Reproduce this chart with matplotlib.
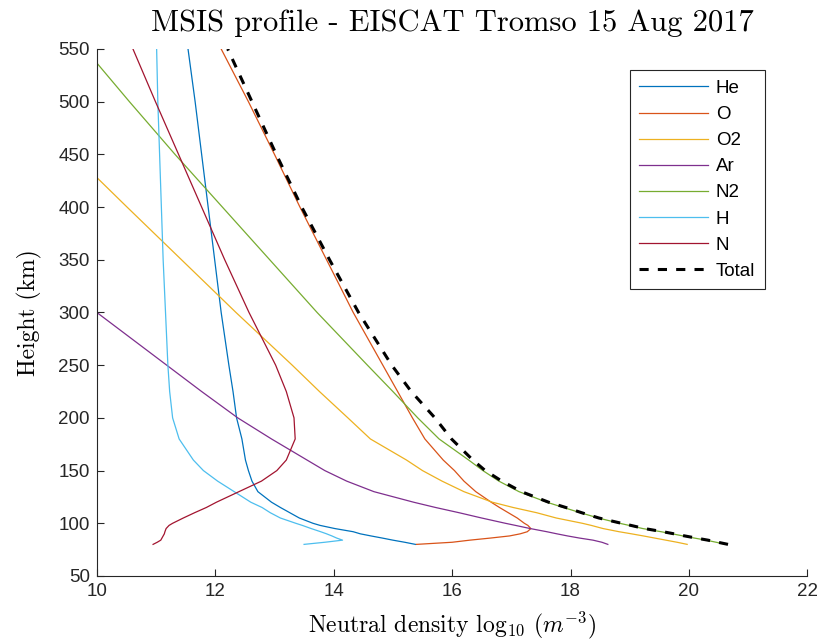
import matplotlib
matplotlib.use("Agg")
import matplotlib.pyplot as plt
import numpy as np

# altitude grid (km)
alt = [80, 82, 84, 86, 88, 90, 92, 95, 98, 100, 105, 110, 115, 120, 130, 140,
       150, 160, 180, 200, 225, 250, 300, 350, 400, 450, 500, 550]

# log10 number densities (m^-3)
he = [15.38, 15.2, 15.0, 14.82, 14.63, 14.45, 14.33, 14.02, 13.77, 13.65, 13.42, 13.26,
      13.1, 12.95, 12.72, 12.62, 12.56, 12.51, 12.45, 12.36, 12.3, 12.23, 12.1, 11.99,
      11.88, 11.77, 11.66, 11.54]
o = [15.4, 16.0, 16.3, 16.65, 16.97, 17.15, 17.27, 17.33, 17.28, 17.22, 17.1, 16.95,
     16.8, 16.66, 16.4, 16.2, 16.04, 15.85, 15.54, 15.33, 15.08, 14.83, 14.33, 13.88,
     13.43, 13.0, 12.56, 12.1]
o2 = [19.97, 19.8, 19.61, 19.42, 19.23, 19.03, 18.82, 18.55, 18.35, 18.2, 17.76, 17.43,
      17.03, 16.68, 16.2, 15.83, 15.5, 15.23, 14.62, 14.24, 13.76, 13.3, 12.35, 11.43,
      10.51, 9.6, 8.68, 7.76]
ar = [18.63, 18.53, 18.38, 18.15, 17.95, 17.77, 17.6, 17.32, 17.07, 16.9, 16.5, 16.12,
      15.72, 15.35, 14.68, 14.22, 13.85, 13.55, 12.95, 12.38, 11.77, 11.18, 10.0, 8.8,
      7.6, 6.4, 5.2, 4.0]
n2 = [20.63, 20.46, 20.29, 20.09, 19.9, 19.72, 19.53, 19.22, 18.99, 18.83, 18.47, 18.17,
      17.88, 17.6, 17.13, 16.79, 16.52, 16.28, 15.78, 15.42, 15.0, 14.57, 13.72, 12.92,
      12.12, 11.32, 10.55, 9.8]
h = [13.5, 13.85, 14.15, 14.05, 13.97, 13.88, 13.78, 13.62, 13.47, 13.36, 13.1, 12.93,
     12.79, 12.6, 12.32, 12.04, 11.8, 11.63, 11.39, 11.28, 11.23, 11.2, 11.16, 11.12,
     11.09, 11.06, 11.03, 11.01]
n = [10.95, 11.02, 11.08, 11.1, 11.12, 11.14, 11.15, 11.17, 11.22, 11.28, 11.46, 11.65,
     11.85, 12.02, 12.4, 12.78, 13.04, 13.2, 13.35, 13.33, 13.2, 13.02, 12.57, 12.16,
     11.77, 11.38, 10.99, 10.61]
total = [20.66, 20.49, 20.32, 20.12, 19.93, 19.75, 19.56, 19.25, 19.02, 18.86, 18.48,
         18.19, 17.92, 17.63, 17.17, 16.84, 16.56, 16.35, 15.99, 15.71, 15.31, 14.98,
         14.42, 13.93, 13.46, 13.03, 12.62, 12.21]

species = ["He", "O", "O2", "Ar", "N2", "H", "N"]
dens = [he, o, o2, ar, n2, h, n]
colors = ["#0072BD", "#D95319", "#EDB120", "#7E2F8E", "#77AC30", "#4DBEEE", "#A2142F"]

plt.rcParams["mathtext.fontset"] = "cm"
plt.rcParams["font.family"] = ["Liberation Sans", "DejaVu Sans"]
serif = "cmr10"

fig = plt.figure(figsize=(8.22, 6.44), dpi=100)
ax = fig.add_axes([0.1178, 0.1056, 0.8644, 0.8184])

for name, d, c in zip(species, dens, colors):
    ax.plot(d, alt, color=c, lw=0.9, label=name)
ax.plot(total, alt, color="black", lw=2.2, linestyle=(0, (3.0, 3.0)), label="Total")

ax.set_xlim(10, 22)
ax.set_ylim(50, 550)
ax.set_xticks(np.arange(10, 23, 2))
ax.set_yticks(np.arange(50, 551, 50))
ax.tick_params(direction="in", length=5, width=0.8, colors="#262626",
               labelsize=13.5, labelcolor="#262626", pad=5)
for side in ["top", "right"]:
    ax.spines[side].set_visible(False)
for side in ["left", "bottom"]:
    ax.spines[side].set_color("#262626")
    ax.spines[side].set_linewidth(0.8)

ax.set_title("MSIS profile - EISCAT Tromso 15 Aug 2017", fontsize=22,
             family=serif, pad=13)
ax.set_xlabel(r"Neutral density log$_{10}$ ($m^{-3}$)", fontsize=17, family=serif,
              labelpad=7)
ax.set_ylabel("Height (km)", fontsize=17, family=serif, labelpad=12)

leg = ax.legend(loc="upper right", bbox_to_anchor=(0.953, 0.977), fontsize=13.5,
                fancybox=False, framealpha=1, edgecolor="#262626",
                handlelength=3.7, handletextpad=0.4, labelspacing=0.48,
                borderpad=0.5)
leg.get_frame().set_linewidth(0.8)

fig.savefig("out.png", dpi=100)
